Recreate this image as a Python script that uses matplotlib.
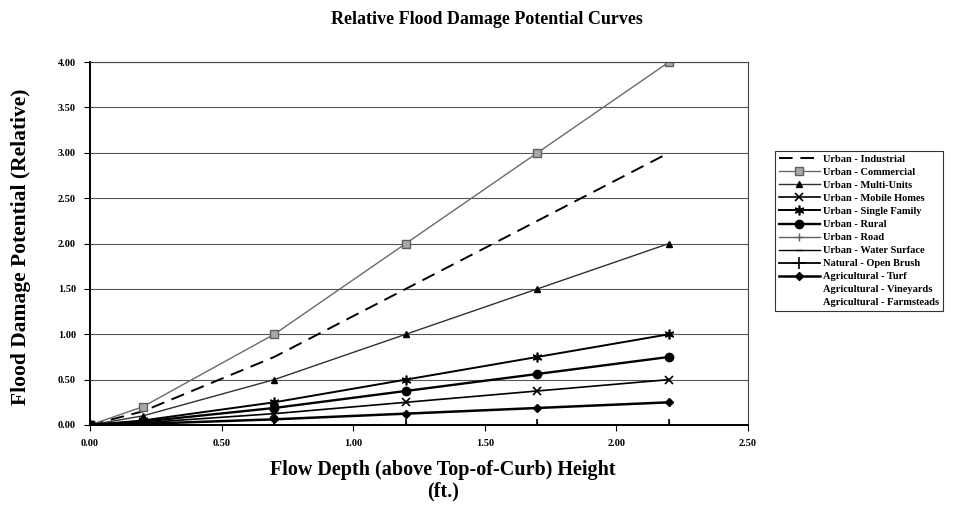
import matplotlib
matplotlib.use("Agg")
import matplotlib.pyplot as plt

# Flow depth above top of curb (ft.)
depth = [0.0, 0.2, 0.7, 1.2, 1.7, 2.2]

# Relative flood damage potential for each land use
urban_industrial = [0.0, 0.15, 0.75, 1.50, 2.25, 3.00]
urban_commercial = [0.0, 0.20, 1.00, 2.00, 3.00, 4.00]
urban_multi_units = [0.0, 0.10, 0.50, 1.00, 1.50, 2.00]
urban_mobile_homes = [0.0, 0.025, 0.125, 0.25, 0.375, 0.50]
urban_single_family = [0.0, 0.05, 0.25, 0.50, 0.75, 1.00]
urban_rural = [0.0, 0.0375, 0.1875, 0.375, 0.5625, 0.75]
urban_road = [0.0, 0.0, 0.0, 0.0, 0.0, 0.0]
urban_water_surface = [0.0, 0.0, 0.0, 0.0, 0.0, 0.0]
natural_open_brush = [0.0, 0.0, 0.0, 0.0, 0.0, 0.0]
agricultural_turf = [0.0, 0.0125, 0.0625, 0.125, 0.1875, 0.25]
agricultural_vineyards = [0.0, 0.0, 0.0, 0.0, 0.0, 0.0]
agricultural_farmsteads = [0.0, 0.0, 0.0, 0.0, 0.0, 0.0]

labels = [
    "Urban - Industrial",
    "Urban - Commercial",
    "Urban - Multi-Units",
    "Urban - Mobile Homes",
    "Urban - Single Family",
    "Urban - Rural",
    "Urban - Road",
    "Urban - Water Surface",
    "Natural - Open Brush",
    "Agricultural - Turf",
    "Agricultural - Vineyards",
    "Agricultural - Farmsteads",
]
series = [
    urban_industrial, urban_commercial, urban_multi_units, urban_mobile_homes,
    urban_single_family, urban_rural, urban_road, urban_water_surface,
    natural_open_brush, agricultural_turf, agricultural_vineyards,
    agricultural_farmsteads,
]

styles = [
    dict(color="black", lw=1.4, ls=(0, (7, 4)), marker=None),
    dict(color="#6a6a6a", lw=1.0, marker="s", ms=5.5, mfc="#a8a8a8", mec="#606060"),
    dict(color="#303030", lw=1.0, marker="^", ms=5, mfc="black", mec="black"),
    dict(color="black", lw=1.2, marker="x", ms=6, mew=1.2),
    dict(color="black", lw=1.4, marker=(6, 2, 0), ms=7, mew=1.2),
    dict(color="black", lw=1.7, marker="o", ms=6),
    dict(color="#606060", lw=1.0, marker="+", ms=6),
    dict(color="black", lw=1.0, marker="_", ms=4),
    dict(color="black", lw=1.3, marker="+", ms=8, mew=1.2),
    dict(color="black", lw=1.8, marker="D", ms=4.5),
    dict(color="white", lw=0, ls="none", marker=None),
    dict(color="white", lw=0, ls="none", marker=None),
]

plt.rcParams["font.family"] = ["Liberation Serif", "DejaVu Serif"]
plt.rcParams["font.weight"] = "bold"

fig = plt.figure(figsize=(9.73, 5.07), dpi=100)
ax = fig.add_axes([90 / 973, 1 - 425 / 507, (748 - 90) / 973, (425 - 62) / 507])

handles = []
for ys, lab, st in zip(series, labels, styles):
    h, = ax.plot(depth, ys, label=lab, **st)
    handles.append(h)

# origin point shared by every curve
ax.plot([depth[0]], [urban_commercial[0]], marker="s", ms=6, color="black",
        ls="none", zorder=5)

ax.set_xlim(0, 2.5)
ax.set_ylim(0, 4.0)
ax.set_xticks([0, 0.5, 1.0, 1.5, 2.0, 2.5])
ax.set_yticks([0, 0.5, 1.0, 1.5, 2.0, 2.5, 3.0, 3.5, 4.0])
ax.xaxis.set_major_formatter(plt.FormatStrFormatter("%.2f"))
ax.yaxis.set_major_formatter(plt.FormatStrFormatter("%.2f"))
ax.tick_params(axis="both", labelsize=7.5, length=4, width=0.8, direction="out", pad=6)
ax.yaxis.grid(True, color="#555555", lw=0.8)
ax.set_axisbelow(True)
for side in ("left", "bottom"):
    ax.spines[side].set_linewidth(1.4)
for side in ("top", "right"):
    ax.spines[side].set_linewidth(0.8)
    ax.spines[side].set_color("#444444")

fig.text(0.5, 0.962, "Relative Flood Damage Potential Curves",
         ha="center", va="center", fontsize=13, fontweight="bold")
fig.text(0.455, 0.052, "Flow Depth (above Top-of-Curb) Height\n(ft.)",
         ha="center", va="center", fontsize=14.5, fontweight="bold", linespacing=1.15)
fig.text(0.022, 0.513, "Flood Damage Potential (Relative)", rotation=90,
         ha="center", va="center", fontsize=15.5, fontweight="bold")

leg = fig.legend(handles=handles, labels=labels, loc="upper left",
                 bbox_to_anchor=(775 / 973, 1 - 151 / 507), fontsize=7.5,
                 frameon=True, fancybox=False, edgecolor="black",
                 handlelength=4.0, handletextpad=0.3, labelspacing=0.36,
                 borderpad=0.35, borderaxespad=0)
leg.get_frame().set_linewidth(0.8)

fig.savefig("out.png", dpi=100)
